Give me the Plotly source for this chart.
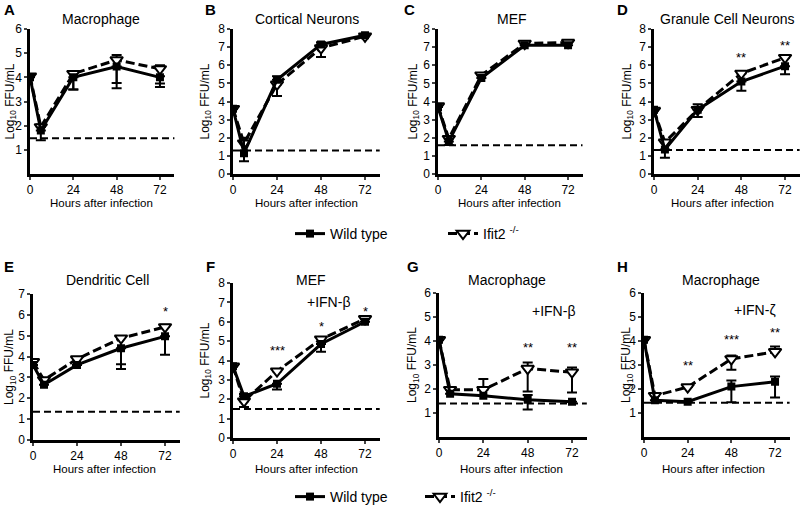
import plotly.graph_objects as go

# ---------------- data ----------------
hours = [0, 6, 24, 48, 72]
panel_letters = ["A", "B", "C", "D", "E", "F", "G", "H"]
panel_titles = ["Macrophage", "Cortical Neurons", "MEF", "Granule Cell Neurons",
                "Dendritic Cell", "MEF", "Macrophage", "Macrophage"]
treatments = ["", "", "", "", "", "+IFN-β", "+IFN-β", "+IFN-ζ"]
x_title = "Hours after infection"
y_title = "Log<sub>10</sub> FFU/mL"
y_max = [6, 8, 8, 8, 7, 8, 6, 6]
y_first_label = [1, 0, 0, 0, 0, 0, 1, 1]
detection_limit = [1.48, 1.3, 1.58, 1.32, 1.36, 1.5, 1.4, 1.43]

wild_type = [
    [4.0, 1.8, 4.0, 4.45, 4.0],
    [3.6, 1.15, 5.2, 7.15, 7.65],
    [3.7, 1.8, 5.3, 7.1, 7.1],
    [3.55, 1.35, 3.55, 5.1, 5.95],
    [3.6, 2.65, 3.6, 4.4, 4.97],
    [3.7, 2.15, 2.8, 4.85, 6.0],
    [4.05, 1.8, 1.72, 1.55, 1.47],
    [4.05, 1.53, 1.47, 2.1, 2.3],
]
wild_type_err_plus = [
    [0, 0, 0, 0, 0.05],
    [0, 0.85, 0.2, 0.12, 0],
    [0, 0, 0, 0, 0],
    [0, 0, 0.3, 0, 0],
    [0, 0, 0, 0, 0],
    [0, 0.12, 0, 0, 0],
    [0, 0, 0, 0.2, 0],
    [0, 0, 0, 0.25, 0.22],
]
wild_type_err_minus = [
    [0, 0.4, 0.5, 0.9, 0.4],
    [0, 0.45, 0, 0, 0],
    [0, 0.2, 0, 0, 0],
    [0, 0.45, 0.4, 0.5, 0.45],
    [0, 0, 0, 1.0, 0.88],
    [0, 0, 0.3, 0.4, 0],
    [0, 0, 0, 0.4, 0],
    [0, 0, 0, 0.65, 0.65],
]
ifit2 = [
    [4.05, 1.95, 4.15, 4.72, 4.35],
    [3.6, 1.7, 4.95, 6.95, 7.6],
    [3.75, 1.95, 5.45, 7.2, 7.25],
    [3.5, 1.75, 3.55, 5.55, 6.42],
    [3.75, 2.88, 3.88, 4.88, 5.42],
    [3.7, 1.9, 3.45, 5.1, 6.15],
    [4.05, 1.97, 1.97, 2.85, 2.7],
    [4.05, 1.72, 2.08, 3.25, 3.55],
]
ifit2_err_plus = [
    [0, 0.1, 0.1, 0.2, 0.15],
    [0, 0, 0, 0, 0],
    [0, 0, 0.05, 0.1, 0.1],
    [0, 0, 0, 0.12, 0.12],
    [0, 0, 0.05, 0.05, 0.1],
    [0, 0, 0.1, 0.1, 0.08],
    [0, 0, 0.45, 0.25, 0.2],
    [0, 0, 0, 0.15, 0.22],
]
ifit2_err_minus = [
    [0, 0, 0.65, 0.95, 0.6],
    [0, 0, 0.65, 0.5, 0],
    [0, 0, 0, 0, 0],
    [0, 0, 0, 0, 0],
    [0, 0, 0, 1.25, 0],
    [0, 0.3, 0, 0, 0],
    [0, 0, 0, 0.95, 0.85],
    [0, 0, 0, 0.45, 0],
]
# significance marks
sig_panel = [3, 3, 4, 5, 5, 5, 6, 6, 7, 7, 7]
sig_hour = [48, 72, 72, 24, 48, 72, 48, 72, 24, 48, 72]
sig_text = ["**", "**", "*", "***", "*", "*", "**", "**", "**", "***", "**"]
sig_y = [6.45, 7.08, 6.15, 4.5, 5.75, 6.55, 3.75, 3.75, 3.0, 4.05, 4.35]
treat_pos = [None, None, None, None, None, (52, 7.0), (62, 5.25), (61, 5.3)]

# ---------------- layout geometry (pixels) ----------------
W, H = 800, 507
x_px = [(30, 174.4), (233, 379.7), (438, 582.5), (654, 799.6),
        (33, 179.7), (233, 379.7), (439, 586.8), (644, 789.6)]
y_px = [(174, 29), (174, 29), (174, 29), (174, 29),
        (440, 294), (438, 283), (437, 293), (437, 293)]
title_px = [(101, 19), (307, 19), (512, 19), (727, 19),
            (107, 280), (311, 280), (507, 280), (721, 280)]
letter_px = [(9, 10), (210, 10), (410, 10), (622, 10),
             (9, 266), (210, 266), (413, 266), (622, 266)]
ytitle_px = [10, 205, 413, 627, 10, 205, 413, 627]
xtitle_px = [(101, 203), (306, 203), (510, 203), (722, 203),
             (104, 469), (306, 469), (511, 469), (713, 469)]

FONT = "Liberation Sans, Arial, sans-serif"
fig = go.Figure()
annotations = []
shapes = []


def text_ann(text, x, y, size, xref="paper", yref="paper", angle=0):
    if xref == "paper":
        x, y = x / W, 1 - y / H
    return dict(text=text, xref=xref, yref=yref, x=x, y=y, textangle=angle,
                xanchor="center", yanchor="middle", showarrow=False,
                font=dict(size=size, color="black", family=FONT))


for i in range(8):
    ax = "" if i == 0 else str(i + 1)
    xa, ya = "x" + ax, "y" + ax
    row1 = i < 4
    fig.add_trace(go.Scatter(
        x=hours, y=ifit2[i], mode="lines+markers", xaxis=xa, yaxis=ya,
        name="Ifit2 <sup>-/-</sup>",
        line=dict(color="black", width=3, dash="9px,4px"),
        marker=dict(symbol="triangle-down", size=11, color="white",
                    line=dict(color="black", width=2)),
        error_y=dict(type="data", symmetric=False, array=ifit2_err_plus[i],
                     arrayminus=ifit2_err_minus[i], color="black",
                     thickness=2, width=5),
        showlegend=(i == 0 or i == 4),
        legend="legend" if row1 else "legend2",
        legendrank=2,
    ))
    fig.add_trace(go.Scatter(
        x=hours, y=wild_type[i], mode="lines+markers", xaxis=xa, yaxis=ya,
        name="Wild type",
        line=dict(color="black", width=3),
        marker=dict(symbol="square", size=8, color="black"),
        error_y=dict(type="data", symmetric=False, array=wild_type_err_plus[i],
                     arrayminus=wild_type_err_minus[i], color="black",
                     thickness=2, width=5),
        showlegend=(i == 0 or i == 4),
        legend="legend" if row1 else "legend2",
        legendrank=1,
    ))
    x0, x1 = x_px[i]
    yb, yt = y_px[i]
    fig.layout["xaxis" + ax] = dict(
        domain=[x0 / W, x1 / W], range=[0, 80], anchor=ya, automargin=False,
        tickvals=[0, 24, 48, 72], ticks="outside", ticklen=3, tickwidth=2,
        showline=True, linewidth=2.5, linecolor="black", showgrid=False,
        zeroline=False, tickfont=dict(size=12, color="black", family=FONT),
    )
    fig.layout["yaxis" + ax] = dict(
        domain=[1 - yb / H, 1 - yt / H], range=[0, y_max[i]], anchor=xa,
        automargin=False,
        tickvals=list(range(y_first_label[i], y_max[i] + 1)),
        ticks="outside", ticklen=3, tickwidth=2,
        showline=True, linewidth=2.5, linecolor="black", showgrid=False,
        zeroline=False, tickfont=dict(size=12, color="black", family=FONT),
    )
    shapes.append(dict(type="line", xref=xa + " domain", yref=ya,
                       x0=0, x1=1, y0=detection_limit[i], y1=detection_limit[i],
                       line=dict(color="black", width=2, dash="7px,4px")))
    annotations.append(text_ann(panel_titles[i], *title_px[i], 14))
    annotations.append(text_ann("<b>" + panel_letters[i] + "</b>",
                                *letter_px[i], 15))
    annotations.append(text_ann(y_title, ytitle_px[i], (yb + yt) / 2, 12,
                                angle=-90))
    annotations.append(text_ann(x_title, *xtitle_px[i], 11.5))
    if treat_pos[i] is not None:
        annotations.append(text_ann(treatments[i], treat_pos[i][0],
                                    treat_pos[i][1], 14, xref=xa, yref=ya))

for p, h, t, yv in zip(sig_panel, sig_hour, sig_text, sig_y):
    ax = "" if p == 0 else str(p + 1)
    annotations.append(text_ann(t, h, yv, 13, xref="x" + ax, yref="y" + ax))

fig.update_layout(
    width=W, height=H, margin=dict(l=0, r=0, t=0, b=0, autoexpand=False),
    plot_bgcolor="white", paper_bgcolor="white",
    font=dict(family=FONT, color="black"),
    annotations=annotations, shapes=shapes,
    legend=dict(orientation="h", x=290 / W, y=1 - 234 / H, xanchor="left",
                yanchor="middle", font=dict(size=14, family=FONT),
                entrywidth=108, traceorder="normal", bgcolor="rgba(0,0,0,0)"),
    legend2=dict(orientation="h", x=290 / W, y=1 - 497 / H, xanchor="left",
                 yanchor="middle", font=dict(size=14, family=FONT),
                 entrywidth=85, traceorder="normal", bgcolor="rgba(0,0,0,0)"),
)

fig.write_html("out.html", config={"displayModeBar": False},
               post_script="document.body.style.margin='0';")
